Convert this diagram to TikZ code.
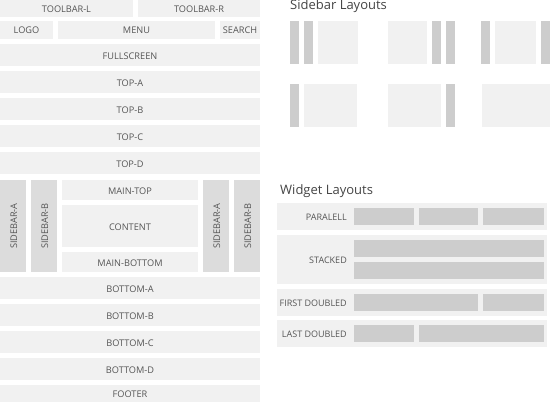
\documentclass[tikz,border=0pt]{standalone}
\usepackage{fontspec}
\setmainfont{Open Sans}
\definecolor{lightbox}{HTML}{F1F1F1}
\definecolor{sidecol}{HTML}{DCDCDC}
\definecolor{barcol}{HTML}{CDCDCD}
\definecolor{txtgray}{HTML}{555555}
\definecolor{titlegray}{HTML}{444444}
\tikzset{
  base/.style={inner sep=0pt, outer sep=0pt, draw=none, text=txtgray, font=\fontsize{9.2}{11}\selectfont},
  lbox/.style={base, fill=lightbox},
  sbox/.style={base, fill=sidecol},
  bbox/.style={base, fill=barcol},
  title/.style={inner sep=0pt, text=titlegray, font=\fontsize{13}{15}\selectfont, anchor=base west},
  wlabel/.style={inner sep=0pt, text=txtgray, font=\fontsize{9}{11}\selectfont, anchor=east, yshift=-0.8pt},
  vlabel/.style={inner sep=0pt, text=txtgray, font=\fontsize{9.2}{11}\selectfont, rotate=90}
}
\newcommand\lowtxt[1]{\raisebox{-0.9pt}[\height][0pt]{#1}}
\newcommand\blk[7]{\node[#1, minimum width={#5-#3}, minimum height={#6-#4}] (#2) at ({(#3+#5)/2},{(#4+#6)/2}) {\lowtxt{#7}};}
\begin{document}
\begin{tikzpicture}[x=1pt,y=-1pt]
\useasboundingbox (0,0) rectangle (550,402);
% left column
\blk{lbox}{tbl}{0}{0}{133}{16.5}{TOOLBAR-L}
\blk{lbox}{tbr}{138}{0}{260}{16.5}{TOOLBAR-R}
\blk{lbox}{logo}{0}{21}{53}{38.5}{LOGO}
\blk{lbox}{menu}{58}{21}{215}{38.5}{MENU}
\blk{lbox}{search}{220}{21}{260}{38.5}{SEARCH}
\blk{lbox}{full}{0}{44}{260}{66}{FULLSCREEN}
\blk{lbox}{topa}{0}{71}{260}{93}{TOP-A}
\blk{lbox}{topb}{0}{98}{260}{120}{TOP-B}
\blk{lbox}{topc}{0}{125}{260}{147}{TOP-C}
\blk{lbox}{topd}{0}{152}{260}{174}{TOP-D}
\blk{sbox}{sa1}{0}{180}{26}{272}{}
\blk{sbox}{sb1}{31}{180}{57}{272}{}
\blk{lbox}{maintop}{62}{180}{198}{200}{MAIN-TOP}
\blk{lbox}{content}{62}{205}{198}{247}{CONTENT}
\blk{lbox}{mainbot}{62}{252}{198}{272}{MAIN-BOTTOM}
\blk{sbox}{sa2}{203}{180}{229}{272}{}
\blk{sbox}{sb2}{234}{180}{260}{272}{}
\node[vlabel] at (sa1) {\lowtxt{SIDEBAR-A}};
\node[vlabel] at (sb1) {\lowtxt{SIDEBAR-B}};
\node[vlabel] at (sa2) {\lowtxt{SIDEBAR-A}};
\node[vlabel] at (sb2) {\lowtxt{SIDEBAR-B}};
\blk{lbox}{bota}{0}{277}{260}{299}{BOTTOM-A}
\blk{lbox}{botb}{0}{304}{260}{326}{BOTTOM-B}
\blk{lbox}{botc}{0}{331}{260}{353}{BOTTOM-C}
\blk{lbox}{botd}{0}{358}{260}{380}{BOTTOM-D}
\blk{lbox}{footer}{0}{385}{260}{402}{FOOTER}
% sidebar layouts
\node[title] (stitle) at (290,9.5) {Sidebar Layouts};
\blk{bbox}{r1a}{290}{21}{299}{64}{}
\blk{bbox}{r1b}{304}{21}{313}{64}{}
\blk{lbox}{r1c}{318}{21}{358}{64}{}
\blk{lbox}{r1d}{388}{21}{427}{64}{}
\blk{bbox}{r1e}{432}{21}{441}{64}{}
\blk{bbox}{r1f}{446}{21}{455}{64}{}
\blk{bbox}{r1g}{481}{21}{490}{64}{}
\blk{lbox}{r1h}{495}{21}{536}{64}{}
\blk{bbox}{r1i}{541}{21}{550}{64}{}
\blk{bbox}{r2a}{290}{84}{299}{127}{}
\blk{lbox}{r2b}{304}{84}{357}{127}{}
\blk{lbox}{r2c}{388}{84}{441}{127}{}
\blk{bbox}{r2d}{446}{84}{455}{127}{}
\blk{lbox}{r2e}{482}{84}{550}{127}{}
% widget layouts
\node[title] (wtitle) at (280,194) {Widget Layouts};
\blk{lbox}{p1}{277}{203}{547}{230}{}
\blk{lbox}{p2}{277}{235}{547}{284}{}
\blk{lbox}{p3}{277}{289}{547}{316}{}
\blk{lbox}{p4}{277}{320}{547}{347}{}
\node[wlabel] at (347,216.5) {PARALELL};
\node[wlabel] at (347,259.5) {STACKED};
\node[wlabel] at (347,302.5) {FIRST DOUBLED};
\node[wlabel] at (347,333.5) {LAST DOUBLED};
\blk{bbox}{w1a}{354}{208}{414}{225}{}
\blk{bbox}{w1b}{419}{208}{478}{225}{}
\blk{bbox}{w1c}{483}{208}{544}{225}{}
\blk{bbox}{w2a}{354}{240}{544}{257}{}
\blk{bbox}{w2b}{354}{262}{544}{279}{}
\blk{bbox}{w3a}{354}{294}{478}{311}{}
\blk{bbox}{w3b}{483}{294}{544}{311}{}
\blk{bbox}{w4a}{354}{325}{414}{342}{}
\blk{bbox}{w4b}{419}{325}{544}{342}{}
\end{tikzpicture}
\end{document}
